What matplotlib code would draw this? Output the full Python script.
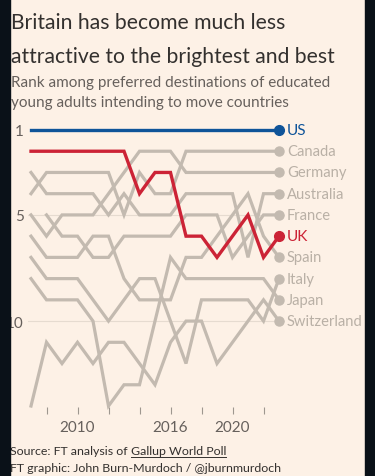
import numpy as np
import matplotlib.pyplot as plt
from matplotlib.patches import Rectangle

# Rank (1 = most preferred) among destinations, Gallup World Poll
years = list(range(2007, 2024))
us          = [1, 1, 1, 1, 1, 1, 1, 1, 1, 1, 1, 1, 1, 1, 1, 1, 1]
uk          = [2, 2, 2, 2, 2, 2, 2, 4, 3, 3, 6, 6, 7, 6, 5, 7, 6]
canada      = [4, 3, 3, 3, 3, 3, 5, 3, 4, 4, 2, 2, 2, 2, 2, 2, 2]
germany     = [5, 6, 5, 5, 5, 4, 3, 2, 2, 2, 3, 3, 3, 3, 3, 3, 3]
australia   = [3, 4, 4, 4, 4, 5, 4, 5, 5, 5, 4, 4, 4, 4, 7, 4, 4]
france      = [None, 5, 6, 6, 7, 7, 6, 6, 6, 6, 5, 5, 5, 7, 6, 5, 5]
spain       = [6, 7, 7, 7, 6, 6, 8, 9, 9, 9, 7, 7, 6, 5, 4, 6, 7]
italy       = [7, 8, 8, 8, 9, 10, 9, 8, 8, 10, 12, 9, 9, 9, 9, 10, 8]
japan       = [8, 9, 9, 9, 10, 14, 13, 13, 10, 7, 8, 8, 8, 8, 8, 8, 9]
switzerland = [14, 11, 12, 11, 12, 11, 11, 12, 13, 11, 10, 10, 12, 11, 10, 9, 10]

grey_countries = {'Canada': canada, 'Germany': germany, 'Australia': australia,
                  'France': france, 'Spain': spain, 'Italy': italy,
                  'Japan': japan, 'Switzerland': switzerland}

bg = '#fdf1e6'
grey = '#c3bab0'
grey_txt = '#b9b0a6'
blue = '#0f5499'
red = '#cc2336'
dark = '#33302e'
mid = '#66605c'
font = 'Lato'

W, H = 375, 477
fig = plt.figure(figsize=(W / 100, H / 100), dpi=100)
fig.patch.set_facecolor(bg)

# dark frame strips left and right
fig.add_artist(Rectangle((0, 0), 10 / W, 1, transform=fig.transFigure, color='#0a1118', zorder=10))
fig.add_artist(Rectangle((365 / W, 0), 10 / W, 1, transform=fig.transFigure, color='#0a1118', zorder=10))

# title and subtitle, one text per line
fig.text(11 / W, 1 - 29 / H, 'Britain has become much less', fontsize=15.2, color=dark,
         family=font, va='baseline')
fig.text(11 / W, 1 - 63 / H, 'attractive to the brightest and best', fontsize=15.2, color=dark,
         family=font, va='baseline')
fig.text(11 / W, 1 - 87 / H, 'Rank among preferred destinations of educated', fontsize=11.0,
         color=mid, family=font, va='baseline')
fig.text(11 / W, 1 - 107 / H, 'young adults intending to move countries', fontsize=11.0,
         color=mid, family=font, va='baseline')

ax = fig.add_axes([28 / W, 1 - 408 / H, (285 - 28) / W, (408 - 120) / H])
ax.set_facecolor(bg)
px_rank = (407 - 131) / 13
ax.set_xlim(2007 - 3 / 15.5, 2023 + 6 / 15.5)
ax.set_ylim(14 + 1 / px_rank, 1 - 11 / px_rank)

for s in ax.spines.values():
    s.set_visible(False)

ax.set_yticks([1, 5, 10])
ax.set_yticklabels(['1', '5', '10'])
ax.tick_params(axis='y', length=0, pad=3, labelsize=11, labelcolor=mid)
for r in [5, 10]:
    ax.axhline(r, color='#e6dbd0', lw=0.8, zorder=0)

ax.set_xticks(range(2008, 2024, 2))
ax.set_xticklabels(['' if y not in (2010, 2016, 2020) else str(y) for y in range(2008, 2024, 2)])
ax.tick_params(axis='x', length=5, width=0.8, color='#9e978f', pad=4, labelsize=11, labelcolor=mid)
for lab in ax.get_xticklabels() + ax.get_yticklabels():
    lab.set_family(font)

for name, vals in grey_countries.items():
    v = np.array(vals, dtype=float)
    ax.plot(years, v, color=grey, lw=2.3, solid_joinstyle='miter', zorder=2, clip_on=False)
    ax.plot(years[-1], v[-1], 'o', color=grey, ms=6.5, zorder=2, clip_on=False)
    ax.text(2023.5, v[-1], name, color=grey_txt, fontsize=10.6, va='center', ha='left', family=font)

ax.plot(years, uk, color=red, lw=2.4, solid_joinstyle='miter', zorder=4, clip_on=False)
ax.plot(years[-1], uk[-1], 'o', color=red, ms=7, zorder=4, clip_on=False)
ax.text(2023.5, uk[-1], 'UK', color=red, fontsize=11, va='center', ha='left', family=font)

ax.plot(years, us, color=blue, lw=2.4, zorder=5, clip_on=False)
ax.plot(years[-1], us[-1], 'o', color=blue, ms=7, zorder=5, clip_on=False)
ax.text(2023.5, us[-1], 'US', color=blue, fontsize=11, va='center', ha='left', family=font)

# footer with underlined source
fs = 8.9
t1 = fig.text(10 / W, 1 - 455 / H, 'Source: FT analysis of ', fontsize=fs, color=dark,
              family=font, va='baseline')
fig.canvas.draw()
bb = t1.get_window_extent()
t2 = fig.text(bb.x1 / W, 1 - 455 / H, 'Gallup World Poll', fontsize=fs, color=dark,
              family=font, va='baseline')
fig.canvas.draw()
bb2 = t2.get_window_extent()
fig.add_artist(plt.Line2D([bb2.x0 / W, bb2.x1 / W], [1 - 457.5 / H, 1 - 457.5 / H], color=dark, lw=0.7))
fig.text(10 / W, 1 - 472 / H, 'FT graphic: John Burn-Murdoch / @jburnmurdoch', fontsize=fs,
         color=dark, family=font, va='baseline')

fig.savefig('out.png', dpi=100, facecolor=bg)
